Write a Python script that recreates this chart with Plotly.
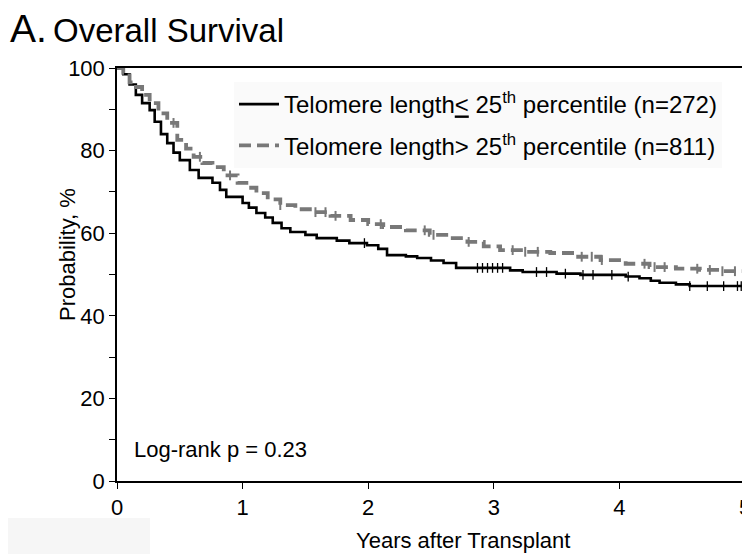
import numpy as np
import plotly.graph_objects as go

# ---- data ----
t_low = [0, 0.05, 0.10, 0.15, 0.20, 0.26, 0.30, 0.35, 0.40, 0.45, 0.50, 0.58, 0.65, 0.76, 0.82, 0.87,
         1.00, 1.05, 1.11, 1.18, 1.24, 1.31, 1.38, 1.50, 1.59, 1.75, 1.85, 1.99, 2.08, 2.15, 2.30, 2.39,
         2.50, 2.60, 2.70, 3.13, 3.23, 3.50, 3.69, 4.05, 4.16, 4.25, 4.32, 4.45, 4.56, 5.00]
s_low = [100, 98.5, 96.0, 93.5, 91.5, 89.8, 87.0, 84.0, 81.8, 79.5, 77.7, 75.3, 73.4, 72.2, 70.5, 68.8,
         67.3, 66.2, 64.9, 63.8, 62.5, 61.2, 60.3, 59.6, 58.8, 58.2, 57.6, 57.1, 56.2, 54.7, 54.4, 54.0,
         53.4, 52.8, 51.6, 51.0, 50.6, 50.2, 49.9, 49.5, 49.1, 48.5, 48.0, 47.6, 47.2, 47.2]

t_high = [0, 0.05, 0.10, 0.13, 0.20, 0.26, 0.33, 0.40, 0.48, 0.55, 0.61, 0.68, 0.76, 0.85, 0.96, 1.03,
          1.11, 1.20, 1.30, 1.42, 1.56, 1.70, 1.86, 2.00, 2.12, 2.30, 2.49, 2.65, 2.79, 2.92, 3.05, 3.25,
          3.45, 3.65, 3.85, 4.05, 4.24, 4.45, 4.64, 4.80, 5.00]
s_high = [100, 98.8, 96.5, 95.4, 93.5, 91.5, 89.0, 86.7, 82.6, 80.5, 78.5, 77.0, 76.0, 74.0, 72.2, 71.0,
          69.7, 68.2, 66.8, 65.8, 65.1, 64.2, 63.2, 62.2, 61.5, 60.7, 59.6, 58.8, 57.9, 56.8, 55.9, 55.5,
          55.2, 54.3, 53.5, 52.6, 51.8, 51.4, 51.1, 50.8, 50.4]

cens_low = [1.97, 2.87, 2.91, 2.95, 2.99, 3.03, 3.07, 3.34, 3.42, 3.57, 3.71, 3.79, 3.94, 4.07,
            4.56, 4.70, 4.83, 4.94, 4.97]
cens_high = [0.45, 0.66, 0.90, 1.30, 1.58, 1.66, 1.74, 2.10, 2.45, 2.52, 2.80, 3.15, 3.25, 3.35,
             3.70, 3.78, 3.86, 4.20, 4.28, 4.36, 4.62, 4.72, 4.82, 4.92]

legend_low = "Telomere length<u><</u> 25<sup>th</sup> percentile (n=272)"
legend_high = "Telomere length> 25<sup>th</sup> percentile (n=811)"
x_ticks = [0, 1, 2, 3, 4, 5]
y_ticks = [0, 20, 40, 60, 80, 100]


def surv_at(ts, ss, q):
    idx = np.searchsorted(np.array(ts), np.array(q), side="right") - 1
    return [ss[i] for i in idx]


FONT = "Liberation Sans, Arial, sans-serif"
BLACK = "#000000"
GREY = "#787878"

# page is rendered with an 8px body margin: work in page pixels, convert to figure pixels
OFF = 8
W, H = 750 - OFF, 554 - OFF
X0, X1, Y0, Y1 = 117, 745, 68, 481          # plot area in page pixels
L, R, T, B = X0 - OFF, W - (X1 - OFF), Y0 - OFF, H - (Y1 - OFF)
PW, PH = X1 - X0, Y1 - Y0


def px(xp):
    return (xp - X0) / PW


def py(yp):
    return (Y1 - yp) / PH


fig = go.Figure()
fig.add_trace(go.Scatter(x=t_low, y=s_low, mode="lines", line=dict(shape="hv", color=BLACK, width=2.6),
                         name=legend_low, legendgroup="a"))
fig.add_trace(go.Scatter(x=t_high, y=s_high, mode="lines",
                         line=dict(shape="hv", color=GREY, width=3.8, dash="12px,6px"),
                         name=legend_high, legendgroup="b"))
fig.add_trace(go.Scatter(x=cens_low, y=surv_at(t_low, s_low, cens_low), mode="markers",
                         marker=dict(symbol="line-ns", size=7, line=dict(color=BLACK, width=1.3)),
                         showlegend=False, hoverinfo="skip"))
fig.add_trace(go.Scatter(x=cens_high, y=surv_at(t_high, s_high, cens_high), mode="markers",
                         marker=dict(symbol="line-ns", size=7, line=dict(color=GREY, width=2)),
                         showlegend=False, hoverinfo="skip"))

fig.update_layout(
    width=W, height=H,
    margin=dict(l=L, r=R, t=T, b=B, autoexpand=False),
    paper_bgcolor="white", plot_bgcolor="white",
    font=dict(family=FONT, size=22, color="black"),
    showlegend=True,
    legend=dict(x=px(234), y=py(82), xanchor="left", yanchor="top", bgcolor="#fafafa",
                font=dict(family=FONT, size=24, color="black"), tracegroupgap=7,
                itemwidth=40, borderwidth=0),
    xaxis=dict(range=[0, 5], tickvals=x_ticks, showline=True, linecolor="black", linewidth=1.5,
               mirror=True, ticks="outside", ticklen=6, tickcolor="black", showgrid=False, zeroline=False,
               tickfont=dict(size=22), automargin=False, ticklabeloverflow="allow"),
    yaxis=dict(range=[0, 100], tickvals=y_ticks, showline=True, linecolor="black", linewidth=1.5,
               mirror=True, ticks="outside", ticklen=6, tickcolor="black", showgrid=False, zeroline=False,
               minor=dict(dtick=10, ticks="outside", ticklen=6, tickcolor="black", showgrid=False),
               tickfont=dict(size=22), automargin=False),
)

fig.add_annotation(xref="paper", yref="paper", x=px(OFF), y=py(28), xanchor="left", yanchor="middle",
                   text="<span style='font-size:39px'>A.</span>&nbsp;<span style='font-size:33px'>Overall Survival</span>",
                   showarrow=False, font=dict(family=FONT, color="black"))
fig.add_annotation(xref="paper", yref="paper", x=px(68), y=py(255), xanchor="center", yanchor="middle",
                   text="Probability, %", textangle=-90, showarrow=False,
                   font=dict(family=FONT, size=22, color="black"))
fig.add_annotation(xref="paper", yref="paper", x=px(463), y=py(540), xanchor="center", yanchor="middle",
                   text="Years after Transplant", showarrow=False,
                   font=dict(family=FONT, size=22, color="black"))
fig.add_annotation(xref="paper", yref="paper", x=px(132), y=py(449), xanchor="left", yanchor="middle",
                   text="Log-rank p = 0.23", showarrow=False, font=dict(family=FONT, size=22, color="black"))
fig.add_shape(type="rect", xref="paper", yref="paper", x0=px(OFF), x1=px(150), y0=py(554), y1=py(518),
              fillcolor="#f6f6f6", line=dict(width=0), layer="below")

fig.write_html("out.html")
